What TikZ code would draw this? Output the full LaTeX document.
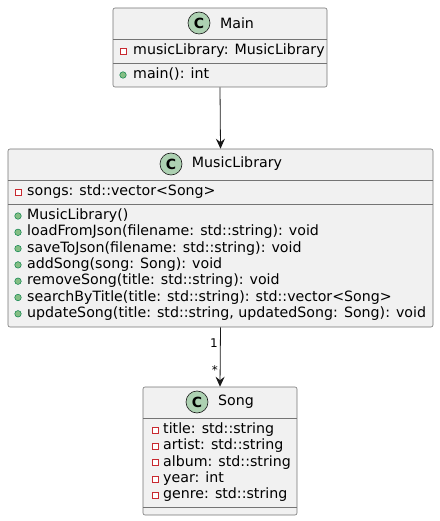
\documentclass[tikz,border=0pt]{standalone}
\usepackage{fontspec}
\setmainfont{DejaVu Sans}
\usetikzlibrary{arrows.meta}

\definecolor{boxfill}{HTML}{F1F1F1}
\definecolor{boxline}{HTML}{181818}
\definecolor{circfill}{HTML}{ADD1B2}
\definecolor{privred}{HTML}{C82930}
\definecolor{pubgreen}{HTML}{84BE84}
\definecolor{publine}{HTML}{038048}

\tikzset{
	classbox/.style={draw=boxline!60, fill=boxfill, rounded corners=2pt, line width=0.6pt, inner sep=0pt},
	classcirc/.style={circle, draw=boxline, fill=circfill, line width=0.6pt, minimum size=22pt, inner sep=0pt, font=\fontsize{14}{14}\selectfont\bfseries},
	classname/.style={font=\fontsize{14.2}{16}\selectfont},
	member/.style={anchor=west, inner sep=0pt, text height=10pt, text depth=3pt, font=\fontsize{14.2}{16}\selectfont},
	privicon/.style={draw=privred, fill=white, line width=0.7pt, minimum size=6pt, inner sep=0pt},
	pubicon/.style={circle, draw=publine, fill=pubgreen, line width=0.5pt, minimum size=6.5pt, inner sep=0pt},
	sepline/.style={draw=boxline!60, line width=0.6pt},
	assoc/.style={draw=boxline, line width=0.8pt, -{Stealth[length=10pt, width=9pt, inset=3.5pt]}},
	multlabel/.style={anchor=east, inner sep=0pt, font=\fontsize{12}{12}\selectfont}
}

\begin{document}
\begin{tikzpicture}[x=1pt, y=-1pt]
	\useasboundingbox (0,0) rectangle (439,521);

	% Main
	\node[classbox, minimum width=214pt, minimum height=79pt] (main) at (220,47.5) {};
	\node[classcirc] (maincirc) at (199,23) {C};
	\node[classname] (maintitle) at (237,23) {Main};
	\draw[sepline] (113,39) -- (327,39);
	\draw[sepline] (113,63) -- (327,63);
	\node[privicon] at (123,51) {};
	\node[member] (mainattr) at (133,51) {musicLibrary: MusicLibrary};
	\node[pubicon] at (123,75) {};
	\node[member] (mainop) at (133,75) {main(): int};

	% MusicLibrary
	\node[classbox, minimum width=425pt, minimum height=178pt] (lib) at (220.5,238) {};
	\node[classcirc] (libcirc) at (171,164) {C};
	\node[classname] (libtitle) at (237,164) {MusicLibrary};
	\draw[sepline] (8,180) -- (433,180);
	\draw[sepline] (8,204) -- (433,204);
	\node[privicon] at (18,192) {};
	\node[member] (libattr) at (27,192) {songs: std::vector<Song>};
	\node[pubicon] at (18,216) {};
	\node[member] (libop1) at (27,216) {MusicLibrary()};
	\node[pubicon] at (18,232.3) {};
	\node[member] (libop2) at (27,232.3) {loadFromJson(filename: std::string): void};
	\node[pubicon] at (18,248.6) {};
	\node[member] (libop3) at (27,248.6) {saveToJson(filename: std::string): void};
	\node[pubicon] at (18,264.9) {};
	\node[member] (libop4) at (27,264.9) {addSong(song: Song): void};
	\node[pubicon] at (18,281.2) {};
	\node[member] (libop5) at (27,281.2) {removeSong(title: std::string): void};
	\node[pubicon] at (18,297.5) {};
	\node[member] (libop6) at (27,297.5) {searchByTitle(title: std::string): std::vector<Song>};
	\node[pubicon] at (18,313.8) {};
	\node[member] (libop7) at (27,313.8) {updateSong(title: std::string, updatedSong: Song): void};

	% Song
	\node[classbox, minimum width=154pt, minimum height=128pt] (song) at (220,451) {};
	\node[classcirc] (songcirc) at (197,402) {C};
	\node[classname] (songtitle) at (236,402) {Song};
	\draw[sepline] (143,418) -- (297,418);
	\draw[sepline] (143,507) -- (297,507);
	\node[privicon] at (155,430) {};
	\node[member] (songattr1) at (163,430) {title: std::string};
	\node[privicon] at (155,446.3) {};
	\node[member] (songattr2) at (163,446.3) {artist: std::string};
	\node[privicon] at (155,462.6) {};
	\node[member] (songattr3) at (163,462.6) {album: std::string};
	\node[privicon] at (155,478.9) {};
	\node[member] (songattr4) at (163,478.9) {year: int};
	\node[privicon] at (155,495.2) {};
	\node[member] (songattr5) at (163,495.2) {genre: std::string};

	% connectors
	\draw[assoc] (main.south) -- (lib.north);
	\draw[assoc] (lib.south) -- (song.north);
	\node[multlabel] at (218,343) {1};
	\node[multlabel] at (218,370) {*};
\end{tikzpicture}
\end{document}
